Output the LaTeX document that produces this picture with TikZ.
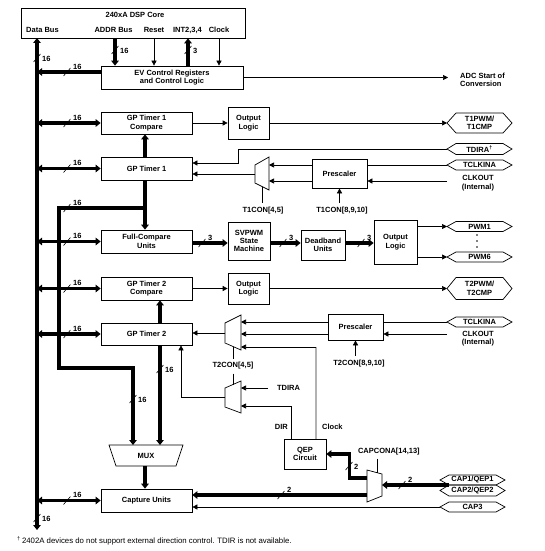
\documentclass[tikz,border=0pt]{standalone}
\usepackage{fontspec}
\setmainfont{Liberation Sans}
\usetikzlibrary{arrows.meta,calc}
\newcommand\sighex[6]{%
  \node[lbl] (#1) at ({(#2+#3)/2},#4) {#6};
  \coordinate (#1w) at (#2,#4);
  \draw[sig] (#2,#4) -- ({#2+9},{#4-#5/2}) -- ({#3-9},{#4-#5/2}) -- (#3,#4) -- ({#3-9},{#4+#5/2}) -- ({#2+9},{#4+#5/2}) -- cycle;}
\newcommand\hmark[3]{\draw[line width=0.6pt] ({#1-3.5},{#2+4}) -- ({#1+3.5},{#2-4});
  \node[lbl,anchor=south west] at ({#1+6},{#2-2.5}) {#3};}
\newcommand\vmark[3]{\draw[line width=0.6pt] ({#1-3.5},{#2+4}) -- ({#1+3.5},{#2-4});
  \node[lbl,anchor=west] at ({#1+5},{#2+1}) {#3};}
\begin{document}
\begin{tikzpicture}[x=1pt,y=-1pt,
  lbl/.style={font=\bfseries\fontsize{7.5}{8.5}\selectfont,inner sep=0pt,align=center},
  blk/.style={lbl,draw,line width=0.7pt},
  sig/.style={line width=0.7pt},
  bus/.style={line width=3.2pt},
  sa/.style={sig,-{Triangle[length=5pt,width=5pt]}},
  ba/.style={bus,-{Triangle[length=5pt,width=7.5pt]}},
  bb/.style={bus,{Triangle[length=5pt,width=7.5pt]}-{Triangle[length=5pt,width=7.5pt]}},
  gmux/.style={line width=1.6pt,gray!70}]
\useasboundingbox (0,0) rectangle (545,551);

% ---------- core and EV ----------
\node[draw,line width=0.7pt,minimum width=224pt,minimum height=30pt,inner sep=0pt] (core) at (133,23) {};
\node[lbl,anchor=base] (coret) at (135,18) {240xA DSP Core};
\node[lbl,anchor=base] (ldb) at (42.5,33) {Data Bus};
\node[lbl,anchor=base] (laddr) at (113.5,33) {ADDR Bus};
\node[lbl,anchor=base] (lrst) at (154,33) {Reset};
\node[lbl,anchor=base] (lint) at (187.5,33) {INT2,3,4};
\node[lbl,anchor=base] (lclk) at (219,33) {Clock};
\node[blk,minimum width=142pt,minimum height=23pt] (ev) at (172,77.5) {EV Control Registers\\and Control Logic};

% ---------- blocks ----------
\node[blk,minimum width=91pt,minimum height=22pt] (gpt1c) at (146.5,123) {GP Timer 1\\Compare};
\node[blk,minimum width=41pt,minimum height=32pt] (out1) at (248.5,123) {Output\\Logic};
\node[blk,minimum width=91pt,minimum height=23pt] (gpt1) at (146.5,168.5) {GP Timer 1};
\node[blk,minimum width=55pt,minimum height=29pt] (pre1) at (339.5,173.5) {Prescaler};
\node[blk,minimum width=91pt,minimum height=23pt] (fcu) at (146.5,241.5) {Full-Compare\\Units};
\node[blk,minimum width=42pt,minimum height=38pt,font=\bfseries\fontsize{7.5}{8.2}\selectfont] (svpwm) at (249,241) {SVPWM\\State\\Machine};
\node[blk,minimum width=44pt,minimum height=30pt] (dead) at (323,245) {Deadband\\Units};
\node[blk,minimum width=43pt,minimum height=44pt] (out3) at (395.5,242) {Output\\Logic};
\node[blk,minimum width=91pt,minimum height=23pt] (gpt2c) at (146.5,288.5) {GP Timer 2\\Compare};
\node[blk,minimum width=41pt,minimum height=31pt] (out2) at (248.5,288.5) {Output\\Logic};
\node[blk,minimum width=91pt,minimum height=22pt] (gpt2) at (146.5,334) {GP Timer 2};
\node[blk,minimum width=55pt,minimum height=26pt] (pre2) at (355.5,327) {Prescaler};
\node[blk,minimum width=42pt,minimum height=30pt] (qep) at (305,454) {QEP\\Circuit};
\node[blk,minimum width=91pt,minimum height=23pt] (cap) at (146.5,500.5) {Capture Units};

% ---------- signal hexagons ----------
\sighex{t1pwm}{447}{512}{123}{20}{T1PWM/\\T1CMP}
\sighex{tdira1}{447}{512}{149}{11}{TDIRA\textsuperscript{†}}
\sighex{tclk1}{447}{512}{165}{10}{TCLKINA}
\sighex{pwm1}{447}{512}{226.5}{10}{PWM1}
\sighex{pwm6}{447}{512}{257}{10}{PWM6}
\sighex{t2pwm}{447}{512}{288.5}{22}{T2PWM/\\T2CMP}
\sighex{tclk2}{447}{512}{322}{10}{TCLKINA}
\sighex{cap1}{440}{505}{480}{10}{CAP1/QEP1}
\sighex{cap2}{440}{505}{490.5}{11}{CAP2/QEP2}
\sighex{cap3}{440}{505}{507}{10}{CAP3}
\fill (477,235) circle[radius=0.9pt] (477,241) circle[radius=0.9pt] (477,247) circle[radius=0.9pt];

% ---------- muxes ----------
\draw[sig] (255,165) -- (269,157) -- (269,190) -- (255,183) -- cycle;
\draw[gmux] (255,165.5) -- (255,182.5);
\coordinate (m1o) at (255,174); \coordinate (m1i1) at (269,165);
\coordinate (m1i2) at (269,181); \coordinate (m1s) at (262,186.5);
\draw[sig] (225,323) -- (241,315) -- (241,350) -- (225,343) -- cycle;
\draw[gmux] (225,323.5) -- (225,342.5);
\coordinate (m2o) at (225,333); \coordinate (m2i1) at (241,322);
\coordinate (m2i2) at (241,334); \coordinate (m2i3) at (241,347);
\coordinate (m2s) at (233,346.5);
\draw[sig] (225,388) -- (241,381) -- (241,413) -- (225,407) -- cycle;
\draw[gmux] (225,388.5) -- (225,406.5);
\coordinate (m3o) at (225,397); \coordinate (m3i1) at (241,388);
\coordinate (m3i2) at (241,406); \coordinate (m3s) at (233,384.5);
\draw[sig] (367,470) -- (382,474) -- (382,496) -- (367,502) -- cycle;
\coordinate (m4i) at (382,485); \coordinate (m4o1) at (367,478);
\coordinate (m4o2) at (367,495); \coordinate (m4s) at (377,472.7);
\draw[sig] (109,445) -- (183,445) -- (176,466) -- (116,466) -- cycle;
\node[lbl] (mux) at (146,455.5) {MUX};
\coordinate (mxa) at (133,445); \coordinate (mxb) at (160,445); \coordinate (mxo) at (145,466);

% ---------- data bus ----------
\coordinate (db) at (37,38);
\coordinate (dbend) at (37,530);
\draw[bb] (db) -- (dbend);
\coordinate (evw) at (101,72);
\draw[ba] (evw) -- (db |- evw);
\foreach \n in {gpt1c,gpt1,fcu,gpt2c,gpt2,cap} \draw[bb] (db |- \n.west) -- (\n.west);

% ---------- core <-> EV ----------
\draw[ba] ([xshift=-18pt]core.south) -- ([xshift=-57pt]ev.north);
\draw[sa] ([xshift=21pt]core.south) -- ([xshift=-18pt]ev.north);
\draw[ba] ([xshift=16pt]ev.north) -- ([xshift=55pt]core.south);
\draw[sa] ([xshift=86pt]core.south) -- ([xshift=47pt]ev.north);
\coordinate (adcin) at (448,77.5);
\draw[sa] (ev.east) -- (adcin);
\node[lbl,align=left,anchor=west] (adc) at (460,80) {ADC Start of\\Conversion};

% ---------- timer 1 ----------
\draw[sa] (gpt1c.east) -- (out1.west);
\draw[sa] (out1.east) -- (t1pwmw);
\draw[ba] ([xshift=-1.5pt]gpt1.north) -- ([xshift=-1.5pt]gpt1c.south);
\draw[ba] ([xshift=-1.5pt]gpt1.south) -- ([xshift=-1.5pt]fcu.north);
\coordinate (j1) at (145,208); \coordinate (j2) at (59,368);
\draw[ba] (j1) -| (j2) -| (mxa);
\draw[sa] (m1o) -- (gpt1.east |- m1o);
\coordinate (td1c) at (238,163);
\draw[sa] (tdira1w) -| (td1c) -- (gpt1.east |- td1c);
\draw[sig] (tclk1w) -- (pre1.east |- tclk1w);
\draw[sa] (pre1.west |- tclk1w) -- (m1i1);
\coordinate (clk1) at (447,181);
\draw[sa] (clk1) -- (pre1.east |- clk1);
\draw[sa] (pre1.west |- clk1) -- (m1i2);
\node[lbl] (clkout1) at (478,183) {CLKOUT\\(Internal)};
\node[lbl,outer sep=5pt] (t1con45) at (263,211) {T1CON[4,5]};
\draw[sig] (m1s) -- (m1s |- t1con45.north);
\node[lbl,outer sep=5pt] (t1con8) at (342,211) {T1CON[8,9,10]};
\draw[sa] (pre1.south |- t1con8.north) -- (pre1.south);

% ---------- full compare ----------
\coordinate (r3) at (0,243);
\draw[ba] (fcu.east |- r3) -- (svpwm.west |- r3);
\draw[ba] (svpwm.east |- r3) -- (dead.west |- r3);
\draw[ba] (dead.east |- r3) -- (out3.west |- r3);
\draw[sa] (out3.east |- pwm1w) -- (pwm1w);
\draw[sa] (out3.east |- pwm6w) -- (pwm6w);

% ---------- timer 2 ----------
\draw[sa] (gpt2c.east) -- (out2.west);
\draw[sa] (out2.east) -- (t2pwmw);
\draw[ba] ([xshift=13.5pt]gpt2.north) -- ([xshift=13.5pt]gpt2c.south);
\draw[ba] ([xshift=13.5pt]gpt2.south) -- (mxb);
\draw[ba] (mxo) -- ([xshift=-1.5pt]cap.north);
\draw[sa] (m2o) -- (gpt2.east |- m2o);
\draw[sig] (tclk2w) -- (pre2.east |- tclk2w);
\draw[sa] (pre2.west |- tclk2w) -- (m2i1);
\coordinate (clk2) at (447,334);
\draw[sa] (clk2) -- (pre2.east |- clk2);
\draw[sa] (pre2.west |- clk2) -- (m2i2);
\node[lbl] (clkout2) at (478,338.5) {CLKOUT\\(Internal)};
\node[lbl,outer sep=5pt] (t2con8) at (359,364) {T2CON[8,9,10]};
\draw[sa] (pre2.south |- t2con8.north) -- (pre2.south);
\node[lbl,outer sep=4pt] (t2con45) at (233,366) {T2CON[4,5]};
\draw[sig] (m2s) -- (m2s |- t2con45.north);
\draw[sig] (m3s |- t2con45.south) -- (m3s);
\draw[sa] (m3o) -| ([xshift=34.5pt]gpt2.south);
\node[lbl,anchor=west,outer sep=9pt] (tdira2) at (268,388) {TDIRA};
\draw[sa] (tdira2.west) -- (m3i1);
\draw[sa] ([xshift=-14pt]qep.north) |- (m3i2);
\coordinate (clkc) at (316,347);
\draw[line width=1.2pt,gray!60] ([xshift=11pt]qep.north) -- (clkc);
\draw[sa] (clkc) -- (m2i3);
\node[lbl,anchor=east] (ldir) at (288,427) {DIR};
\node[lbl,anchor=west] (lclock) at (322,427) {Clock};

% ---------- capture ----------
\draw[ba] (m4o1) -| ([xshift=23pt]qep.east) -- (qep.east);
\draw[ba] (m4o2) -- (cap.east |- m4o2);
\coordinate (capj) at (449,485);
\draw[ba] (capj) -- (m4i);
\draw[sa] (cap3w) -- (cap.east |- cap3w);
\node[lbl,anchor=west,outer sep=3pt] (capcona) at (355,452) {CAPCONA[14,13]};
\draw[sig] (m4s |- capcona.south) -- (m4s);

% ---------- bus width marks ----------
\vmark{37}{58}{16}
\vmark{37}{518}{16}
\vmark{115}{50}{16}
\vmark{188}{50}{3}
\hmark{67}{72}{16}
\hmark{67}{123}{16}
\hmark{67}{168.5}{16}
\hmark{67}{241.5}{16}
\hmark{67}{288.5}{16}
\hmark{67}{334}{16}
\hmark{67}{500.5}{16}
\hmark{67}{208}{16}
\vmark{160}{369}{16}
\vmark{133}{399}{16}
\hmark{202}{243}{3}
\hmark{283}{243}{3}
\hmark{361}{243}{3}
\vmark{349}{466}{2}
\hmark{402}{485}{2}
\hmark{281}{495}{2}

% ---------- footnote ----------
\node[anchor=base west,inner sep=0pt,font=\fontsize{7.8}{9}\selectfont] (foot) at (17,543.5) {\textsuperscript{†}\,2402A devices do not support external direction control. TDIR is not available.};
\end{tikzpicture}
\end{document}
